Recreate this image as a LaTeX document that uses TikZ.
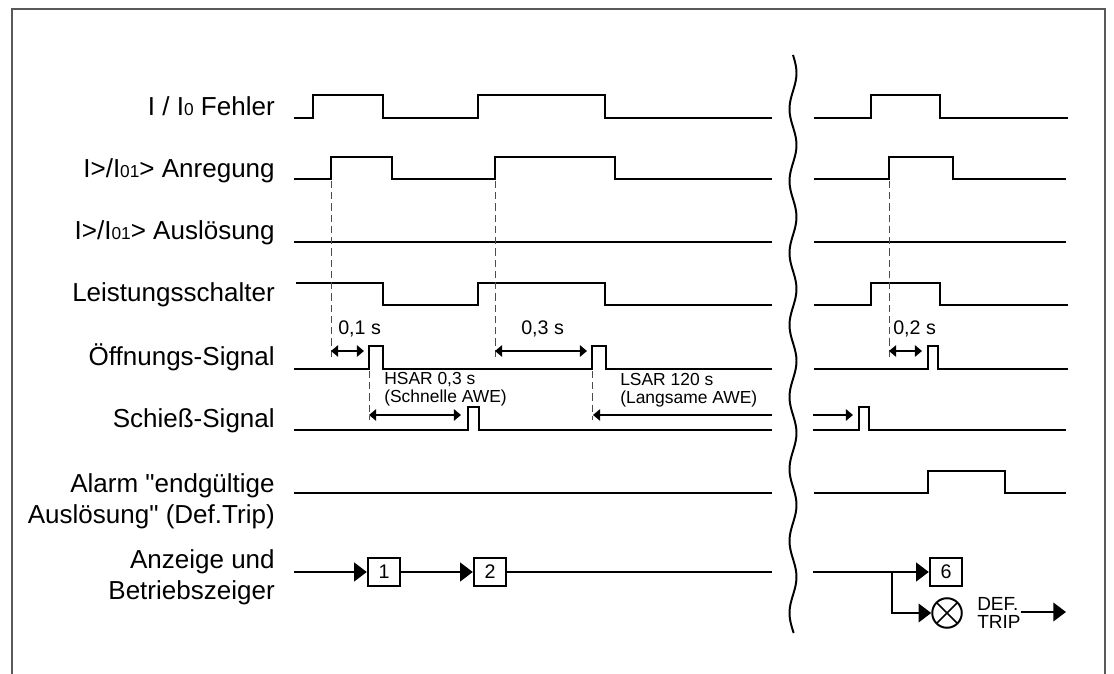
\documentclass[tikz,border=0pt]{standalone}
\usepackage{fontspec}
\setmainfont{Liberation Sans}[Ligatures=TeXOff]
\usetikzlibrary{arrows.meta}

\newcommand\lo[1]{{\fontsize{12.3}{12.3}\selectfont #1}}

\tikzset{
    frame/.style = {line width=1pt, gray!70!black},
    sig/.style   = {line width=2.1pt, line join=miter},
    lbl/.style   = {anchor=base east, inner sep=0pt, font=\fontsize{18.5}{22}\selectfont},
    lbltwo/.style= {anchor=north east, align=right, inner sep=0pt, font=\fontsize{18.5}{22}\selectfont},
    tlbl/.style  = {anchor=base west, inner sep=0pt, font=\fontsize{14}{14}\selectfont},
    note/.style  = {anchor=west, align=left, inner sep=0pt, font=\fontsize{12.4}{13}\selectfont},
    dsh/.style   = {line width=0.7pt, gray!60!black, dash pattern=on 5pt off 3pt},
    tarr/.style  = {line width=1.4pt, >={Triangle[length=5pt,width=8pt]}},
    flow/.style  = {line width=2.1pt, -{Triangle[length=9pt,width=13pt]}},
    box/.style   = {draw, line width=1.4pt, minimum width=23pt, minimum height=20pt,
                    inner sep=0pt, font=\fontsize{14}{14}\selectfont},
    lamp/.style  = {circle, draw, line width=1.4pt, minimum size=21pt, inner sep=0pt,
                    path picture={\draw[line width=1.2pt]
                        (path picture bounding box.south west) -- (path picture bounding box.north east)
                        (path picture bounding box.north west) -- (path picture bounding box.south east);}},
}

\begin{document}
\begin{tikzpicture}[x=0.025cm, y=-0.025cm]
    \useasboundingbox (0,0) rectangle (1114,674);
    \draw[frame] (12,674) |- (1105,9) -- (1105,674);

    % row labels
    \node[lbl] (lfehler) at (275,116) {I / I\lo{0} Fehler};
    \node[lbl] (lanreg)  at (275,178) {I>/I\lo{01}> Anregung};
    \node[lbl] (lausl)   at (275,240) {I>/I\lo{01}> Auslösung};
    \node[lbl] (lls)     at (275,302) {Leistungsschalter};
    \node[lbl] (loeff)   at (275,366) {Öffnungs-Signal};
    \node[lbl] (lschl)   at (275,428) {Schieß-Signal};
    \node[lbltwo] (lalarm) at (275,473) {Alarm "endgültige\\Auslösung" (Def.Trip)};
    \node[lbltwo] (lanz)   at (275,549) {Anzeige und\\Betriebszeiger};

    % signals, left part
    \draw[sig] (294,118) -- (313,118) -- (313,95) -- (383,95) -- (383,118) -- (478,118)
               -- (478,95) -- (605,95) -- (605,118) -- (772,118);
    \draw[sig] (294,179) -- (331,179) -- (331,157) -- (392,157) -- (392,179) -- (495,179)
               -- (495,157) -- (615,157) -- (615,179) -- (772,179);
    \draw[sig] (294,242) -- (772,242);
    \draw[sig] (296,283) -- (383,283) -- (383,305) -- (478,305) -- (478,283) -- (605,283)
               -- (605,305) -- (772,305);
    \draw[sig] (294,369) -- (369,369) -- (369,346) -- (383,346) -- (383,369) -- (592,369)
               -- (592,346) -- (606,346) -- (606,369) -- (772,369);
    \draw[sig] (294,430) -- (468,430) -- (468,407) -- (479,407) -- (479,430) -- (772,430);
    \draw[sig] (294,493) -- (772,493);

    % signals, right part
    \draw[sig] (814,118) -- (871,118) -- (871,95) -- (940,95) -- (940,118) -- (1068,118);
    \draw[sig] (814,179) -- (889,179) -- (889,157) -- (953,157) -- (953,179) -- (1066,179);
    \draw[sig] (814,242) -- (1066,242);
    \draw[sig] (814,305) -- (871,305) -- (871,283) -- (940,283) -- (940,305) -- (1068,305);
    \draw[sig] (814,369) -- (928,369) -- (928,346) -- (938,346) -- (938,369) -- (1068,369);
    \draw[sig] (813,430) -- (859,430) -- (859,407) -- (869,407) -- (869,430) -- (1066,430);
    \draw[sig] (814,493) -- (928,493) -- (928,471) -- (1005,471) -- (1005,493) -- (1066,493);

    % break
    \draw[line width=1.4pt] plot[domain=55:633, samples=160, smooth]
        ({793+3.5*sin(5*(\x-55))}, \x);

    % delays
    \draw[dsh] (331,181) -- (331,357);
    \draw[dsh] (495,181) -- (495,357);
    \draw[dsh] (889,181) -- (889,357);
    \draw[dsh] (369,371) -- (369,420);
    \draw[dsh] (592,371) -- (592,420);

    \draw[tarr, <->] (331,351) -- (364,351);
    \draw[tarr, <->] (495,351) -- (587,351);
    \draw[tarr, <->] (889,351) -- (922,351);
    \draw[tarr, <->] (369,415) -- (461,415);
    \draw[tarr, ->]  (772,415) -- (593,415);
    \draw[tarr, ->]  (813,415) -- (853,415);

    \node[tlbl] (t1) at (338,335) {0,1 s};
    \node[tlbl] (t3) at (521,335) {0,3 s};
    \node[tlbl] (t2) at (893,335) {0,2 s};
    \node[note] (hsar) at (384,389) {HSAR 0,3 s\\(Schnelle AWE)};
    \node[note] (lsar) at (620,390) {LSAR 120 s\\(Langsame AWE)};

    % Anzeige, left part
    \node[box] (b1) at (384,572) {1};
    \node[box] (b2) at (490,572) {2};
    \coordinate (a0) at (294,572);
    \coordinate (aend) at (772,572);
    \draw[flow] (a0) -- (b1);
    \draw[flow] (b1) -- (b2);
    \draw[sig] (b2) -- (aend);

    % Anzeige, right part
    \node[box] (b6) at (946,572) {6};
    \node[lamp] (lamp) at (947,613) {};
    \node[note, font=\fontsize{13.5}{12.5}\selectfont] (dtrip) at (977,613) {DEF.\\TRIP};
    \coordinate (a6) at (813,572);
    \coordinate (br) at (892,572);
    \coordinate (dend) at (1066,612);
    \draw[flow] (a6) -- (b6);
    \draw[flow] (br) |- (lamp);
    \draw[flow] (dtrip.east |- dend) -- (dend);
\end{tikzpicture}
\end{document}
